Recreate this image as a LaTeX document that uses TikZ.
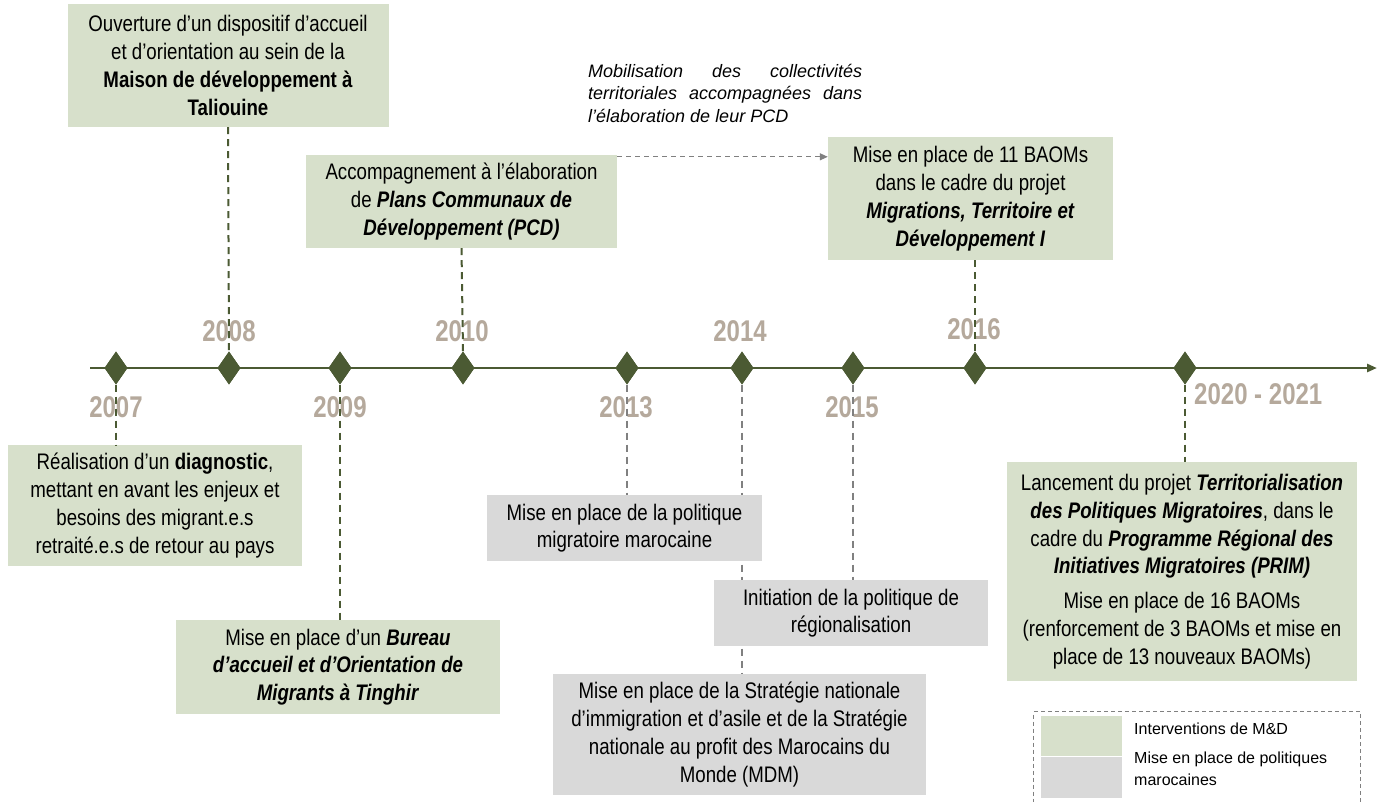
\documentclass[tikz,border=0pt]{standalone}
\usepackage{fontspec}
\setmainfont{Liberation Sans}
\newfontfamily\narrow[FakeStretch=0.83]{Liberation Sans}
\newfontfamily\yearfont[FakeStretch=0.8]{Liberation Sans}
\usetikzlibrary{shapes.geometric,arrows.meta,calc}
\definecolor{boxgreen}{HTML}{D7E0CB}
\definecolor{boxgrey}{HTML}{D9D9D9}
\definecolor{olive}{HTML}{4B5A33}
\definecolor{yearc}{HTML}{B5A99C}
\definecolor{conngrey}{HTML}{808080}
\tikzset{
  gbox/.style={fill=boxgreen,draw=none,align=center,inner sep=0pt,font=\narrow\fontsize{22.5}{27.8}\selectfont},
  rbox/.style={fill=boxgrey,draw=none,align=center,inner sep=0pt,font=\narrow\fontsize{22.5}{27.8}\selectfont},
  dia/.style={diamond,fill=olive,draw=none,minimum width=23pt,minimum height=33pt,inner sep=0pt},
  year/.style={text=yearc,font=\yearfont\bfseries\fontsize{30}{32}\selectfont,inner sep=0pt},
  gconn/.style={draw=olive,line width=2pt,dash pattern=on 7pt off 5pt},
  rconn/.style={draw=conngrey,line width=2pt,dash pattern=on 7pt off 5pt},
}
\begin{document}
\begin{tikzpicture}[x=1pt,y=-1pt]
\useasboundingbox (0,0) rectangle (1383,801);
% diamonds
\node[dia] (d07) at (116,368) {};
\node[dia] (d08) at (229,368) {};
\node[dia] (d09) at (340,368) {};
\node[dia] (d10) at (463,368) {};
\node[dia] (d13) at (627,368) {};
\node[dia] (d14) at (742,368) {};
\node[dia] (d15) at (853,368) {};
\node[dia] (d16) at (975,368) {};
\node[dia] (d20) at (1185,368) {};
\coordinate (tl0) at (90,368);
\coordinate (tl1) at (1377,368);
% years (drawn first: connectors pass over them)
\node[year] (y08) at (229,331) {2008};
\node[year] (y10) at (462,331) {2010};
\node[year] (y14) at (740,331) {2014};
\node[year] (y16) at (974,329) {2016};
\node[year] (y07) at (116,407) {2007};
\node[year] (y09) at (340,407) {2009};
\node[year] (y13) at (626,407) {2013};
\node[year] (y15) at (852,407) {2015};
\node[year,anchor=west] (y20) at (1194,394) {2020 - 2021};
% boxes
\node[gbox,minimum width=321pt,minimum height=123pt] (b08) at (228,65.5)
 {Ouverture d’un dispositif d’accueil\\ et d’orientation au sein de la\\ \textbf{Maison de développement à}\\ \textbf{Taliouine}};
\node[gbox,minimum width=311pt,minimum height=93pt] (b10) at (461.5,201.5)
 {Accompagnement à l’élaboration\\ de \textbf{\textit{Plans Communaux de}}\\ \textbf{\textit{Développement (PCD)}}};
\node[gbox,minimum width=285pt,minimum height=123pt] (b16) at (970.5,198.5)
 {Mise en place de 11 BAOMs\\ dans le cadre du projet\\ \textbf{\textit{Migrations, Territoire et}}\\ \textbf{\textit{Développement I}}};
\node[gbox,minimum width=294pt,minimum height=121pt] (b07) at (155,505.5)
 {Réalisation d’un \textbf{diagnostic},\\ mettant en avant les enjeux et\\ besoins des migrant.e.s\\ retraité.e.s de retour au pays};
\node[gbox,minimum width=324pt,minimum height=94pt] (b09) at (338,667)
 {Mise en place d’un \textbf{\textit{Bureau}}\\ \textbf{\textit{d’accueil et d’Orientation de}}\\ \textbf{\textit{Migrants à Tinghir}}};
\node[gbox,minimum width=350pt,minimum height=219pt] (b20) at (1182,571.5)
 {Lancement du projet \textbf{\textit{Territorialisation}}\\ \textbf{\textit{des Politiques Migratoires}}, dans le\\ cadre du \textbf{\textit{Programme Régional des}}\\ \textbf{\textit{Initiatives Migratoires (PRIM)}}\\[7pt] Mise en place de 16 BAOMs\\ (renforcement de 3 BAOMs et mise en\\ place de 13 nouveaux BAOMs)};
% connectors (drawn before grey boxes so they pass behind)
\draw[gconn] (b08.south) -- (d08.north);
\draw[gconn] (b10.south) -- (d10.north);
\draw[gconn] (b16.south -| d16) -- (d16.north);
\draw[gconn] (d07.south) -- (b07.north -| d07);
\draw[gconn] (d09.south) -- (b09.north -| d09);
\draw[gconn] (d20.south) -- (b20.north -| d20);
\coordinate (s13) at (627,495);
\coordinate (s14) at (742,674);
\coordinate (s15) at (853,580);
\draw[rconn] (d13.south) -- (s13);
\draw[rconn] (d14.south) -- (s14);
\draw[rconn] (d15.south) -- (s15);
\node[rbox,minimum width=275pt,minimum height=66pt,anchor=north] (b13) at (624.5,495)
 {Mise en place de la politique\\ migratoire marocaine};
\node[rbox,minimum width=274pt,minimum height=66pt,anchor=north] (b15) at (851,580)
 {Initiation de la politique de\\ régionalisation};
\node[rbox,minimum width=373pt,minimum height=121pt,anchor=north] (b14) at (739.5,674)
 {Mise en place de la Stratégie nationale\\ d’immigration et d’asile et de la Stratégie\\ nationale au profit des Marocains du\\ Monde (MDM)};
% timeline
\draw[olive,line width=2.5pt,-{Triangle[length=10pt,width=8pt]}] (tl0) -- (tl1);
\foreach \d in {d07,d08,d09,d10,d13,d14,d15,d16,d20} {\node[dia] at (\d) {};}
% mobilisation annotation
\node[inner sep=0pt,anchor=north west,text width=274pt,align=justify,font=\itshape\fontsize{18}{22.5}\selectfont] (mob) at (588,64)
 {Mobilisation des collectivités \mbox{territoriales} \mbox{accompagnées} dans \mbox{l’élaboration} de leur PCD};
\draw[draw=conngrey,line width=1.2pt,dash pattern=on 5pt off 4pt,-{Triangle[length=8pt,width=7pt]}]
 ([yshift=-2pt]b10.north east) -- ([yshift=-2pt]b10.north east -| b16.west);
% legend
\node[draw=conngrey,dash pattern=on 4pt off 3pt,line width=1pt,minimum width=327pt,minimum height=92pt,anchor=north west,inner sep=0pt] (leg) at (1033,711) {};
\node[fill=boxgreen,minimum width=81pt,minimum height=40pt,inner sep=0pt,anchor=north west] (lg) at (1041,716) {};
\node[fill=boxgrey,minimum width=81pt,minimum height=41pt,inner sep=0pt,anchor=north west] (lr) at (1041,757) {};
\node[anchor=west,inner sep=0pt,font=\fontsize{16}{22}\selectfont] (lgt) at (1134,729) {Interventions de M\&D};
\node[anchor=north west,inner sep=0pt,align=left,font=\fontsize{16}{22}\selectfont] (lrt) at (1134,752) {Mise en place de politiques\\ marocaines};
\end{tikzpicture}
\end{document}
